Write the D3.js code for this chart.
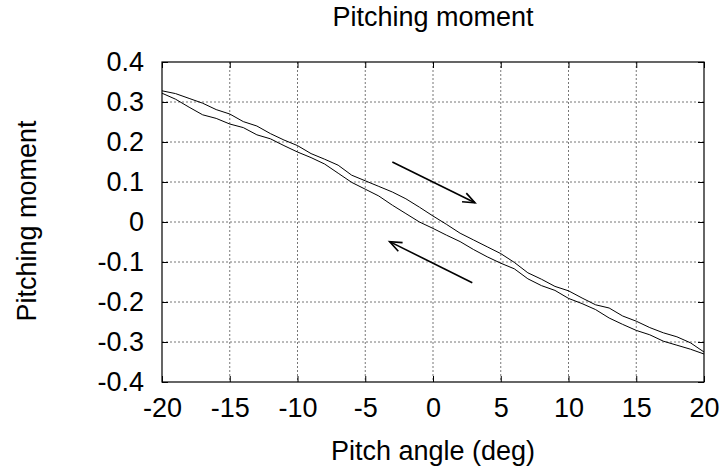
<!DOCTYPE html>
<html>
<head>
<meta charset="utf-8">
<script src="https://cdn.jsdelivr.net/npm/d3@7/dist/d3.min.js"></script>
<style>
body { margin: 0; background: #fff; }
text { font-family: "Liberation Sans", Arial, Helvetica, sans-serif; fill: #000; }
</style>
</head>
<body>
<div id="chart"></div>
<script>
// pitch angle samples (deg)
var angles = [-20,-19,-18,-17,-16,-15,-14,-13,-12,-11,-10,-9,-8,-7,-6,-5,-4,-3,-2,-1,0,
	1,2,3,4,5,6,7,8,9,10,11,12,13,14,15,16,17,18,19,20];
// upper branch (angle increasing)
var upperMoment = [0.328,0.321,0.309,0.297,0.281,0.270,0.251,0.240,0.221,0.205,0.191,0.171,0.157,0.142,0.117,0.103,0.089,0.075,0.058,0.037,0.015,
	-0.006,-0.028,-0.045,-0.062,-0.079,-0.101,-0.127,-0.143,-0.161,-0.172,-0.190,-0.207,-0.215,-0.235,-0.248,-0.264,-0.277,-0.287,-0.302,-0.325];
// lower branch (angle decreasing)
var lowerMoment = [0.322,0.307,0.287,0.268,0.259,0.245,0.236,0.218,0.208,0.191,0.175,0.161,0.145,0.122,0.099,0.082,0.065,0.042,0.021,0.000,-0.016,
	-0.033,-0.049,-0.069,-0.087,-0.103,-0.117,-0.142,-0.159,-0.171,-0.191,-0.204,-0.219,-0.240,-0.256,-0.271,-0.282,-0.298,-0.308,-0.318,-0.330];
var xTicks = [-20,-15,-10,-5,0,5,10,15,20];
var yTicks = [0.4,0.3,0.2,0.1,0,-0.1,-0.2,-0.3,-0.4];
// direction arrows [x1, y1, x2, y2] in data units
var arrows = [[-3.0,0.150,3.1,0.048],[2.9,-0.152,-3.2,-0.049]];

var margin = {top: 62, right: 16, bottom: 92, left: 162},
	width = 720 - margin.left - margin.right,
	height = 474 - margin.top - margin.bottom;
var fontSize = "27px";

var x = d3.scaleLinear().domain([-20, 20]).range([0, width]);
var y = d3.scaleLinear().domain([-0.4, 0.4]).range([height, 0]);

var svg = d3.select("#chart").append("svg")
	.attr("width", 720)
	.attr("height", 474)
.append("g")
	.attr("transform", "translate(" + margin.left + "," + margin.top + ")");

//grid
svg.selectAll(".vgrid")
	.data(xTicks.slice(1, -1))
	.enter().append("line")
	.attr("x1", function(d){return x(d);})
	.attr("x2", function(d){return x(d);})
	.attr("y1", 0)
	.attr("y2", height)
	.attr("stroke", "#777")
	.attr("stroke-dasharray", "2,2");
svg.selectAll(".hgrid")
	.data(yTicks.slice(1, -1))
	.enter().append("line")
	.attr("x1", 0)
	.attr("x2", width)
	.attr("y1", function(d){return y(d);})
	.attr("y2", function(d){return y(d);})
	.attr("stroke", "#777")
	.attr("stroke-dasharray", "2,2");

//axes, ticks inside and mirrored
function styleAxis(g) {
	g.select(".domain").remove();
	g.selectAll(".tick line").attr("stroke", "#000");
	g.selectAll(".tick text").style("font-size", fontSize).attr("fill", "#000");
}
svg.append("g")
	.attr("transform", "translate(0," + height + ")")
	.call(d3.axisBottom(x).tickValues(xTicks).tickSizeInner(-6).tickSizeOuter(0).tickPadding(16)
		.tickFormat(function(d){return String(d);}))
	.call(styleAxis);
svg.append("g")
	.call(d3.axisTop(x).tickValues(xTicks).tickSizeInner(-6).tickSizeOuter(0).tickFormat(""))
	.call(styleAxis);
svg.append("g")
	.call(d3.axisLeft(y).tickValues(yTicks).tickSizeInner(-6).tickSizeOuter(0).tickPadding(18)
		.tickFormat(function(d){return d === 0 ? "0" : d.toFixed(1);}))
	.call(styleAxis);
svg.append("g")
	.attr("transform", "translate(" + width + ",0)")
	.call(d3.axisRight(y).tickValues(yTicks).tickSizeInner(-6).tickSizeOuter(0).tickFormat(""))
	.call(styleAxis);

svg.append("rect")
	.attr("width", width)
	.attr("height", height)
	.attr("fill", "none")
	.attr("stroke", "#000")
	.attr("stroke-width", 1.2);

//curves
var line = d3.line()
	.x(function(d){return x(d[0]);})
	.y(function(d){return y(d[1]);});
[upperMoment, lowerMoment].forEach(function(series){
	svg.append("path")
		.datum(angles.map(function(a, i){return [a, series[i]];}))
		.attr("fill", "none")
		.attr("stroke", "#000")
		.attr("stroke-width", 1)
		.attr("d", line);
});

//arrows
arrows.forEach(function(a){
	var x1 = x(a[0]), y1 = y(a[1]), x2 = x(a[2]), y2 = y(a[3]);
	var ang = Math.atan2(y2 - y1, x2 - x1), len = 13, spread = 0.38;
	svg.append("line")
		.attr("x1", x1).attr("y1", y1)
		.attr("x2", x2).attr("y2", y2)
		.attr("stroke", "#000")
		.attr("stroke-width", 1.6);
	svg.append("path")
		.attr("d", "M" + (x2 - len * Math.cos(ang - spread)) + "," + (y2 - len * Math.sin(ang - spread)) +
			"L" + x2 + "," + y2 +
			"L" + (x2 - len * Math.cos(ang + spread)) + "," + (y2 - len * Math.sin(ang + spread)))
		.attr("fill", "none")
		.attr("stroke", "#000")
		.attr("stroke-width", 1.6);
});

//labels
svg.append("text")
	.attr("x", width / 2)
	.attr("y", -36)
	.attr("text-anchor", "middle")
	.style("font-size", fontSize)
	.text("Pitching moment");
svg.append("text")
	.attr("x", width / 2)
	.attr("y", height + 78)
	.attr("text-anchor", "middle")
	.style("font-size", fontSize)
	.text("Pitch angle (deg)");
svg.append("text")
	.attr("transform", "rotate(-90)")
	.attr("x", -height / 2 + 1)
	.attr("y", -126)
	.attr("text-anchor", "middle")
	.style("font-size", fontSize)
	.text("Pitching moment");
</script>
</body>
</html>
